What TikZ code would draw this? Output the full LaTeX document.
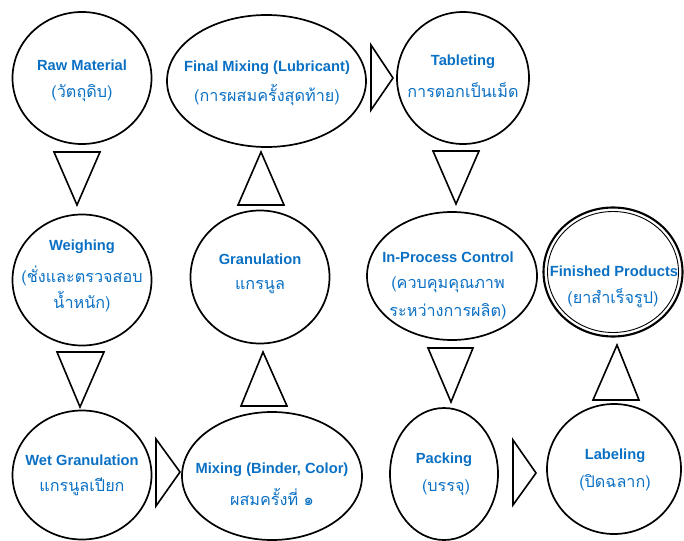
\documentclass[tikz,border=0pt]{standalone}
\usepackage{fontspec}
\setmainfont{Liberation Sans}
\newfontfamily\thaifont[Script=Thai]{Loma}
\usetikzlibrary{shapes.geometric}
\definecolor{txtblue}{RGB}{10,112,196}
\tikzset{
  stage/.style={ellipse, draw=black, line width=1.7pt, inner sep=0pt},
  entext/.style={text=txtblue, font=\bfseries\fontsize{14.7}{16}\selectfont, inner sep=0pt, align=center},
  thtext/.style={text=txtblue, font=\thaifont\fontsize{16.2}{18}\selectfont, inner sep=0pt, align=center},
  blockarrow/.style={draw=black, line width=1.6pt, line join=miter, fill=white},
}
\begin{document}
\begin{tikzpicture}[x=1pt,y=-1pt]
\useasboundingbox (0,0) rectangle (684,540);
% stages
\node[stage, minimum width=139pt, minimum height=132pt] (raw) at (82,78) {};
\node[stage, minimum width=199pt, minimum height=132pt] (final) at (266.5,81) {};
\node[stage, minimum width=132pt, minimum height=132pt] (tab) at (463,78) {};
\node[stage, minimum width=139pt, minimum height=131pt] (weigh) at (82,280) {};
\node[stage, minimum width=139pt, minimum height=133pt] (gran) at (260,277) {};
\node[stage, minimum width=170pt, minimum height=128pt] (ipc) at (452,276) {};
\node[stage, line width=2.1pt, minimum width=139pt, minimum height=129pt] (fin) at (613,272) {};
\node[stage, line width=0.9pt, minimum width=131pt, minimum height=121pt] (fininner) at (fin.center) {};
\node[stage, minimum width=139pt, minimum height=129pt] (wet) at (82,475) {};
\node[stage, minimum width=180pt, minimum height=128pt] (mix) at (272,476) {};
\node[stage, minimum width=108pt, minimum height=132pt] (pack) at (444,474) {};
\node[stage, minimum width=134pt, minimum height=130pt] (lab) at (614,469) {};
% texts
\node[entext] (rawe) at (82,65) {Raw Material};
\node[thtext] (rawt) at (82,93) {(วัตถุดิบ)};
\node[entext] (finale) at (267,68) {Final Mixing (Lubricant)};
\node[thtext] (finalt) at (267,95) {(การผสมครั้งสุดท้าย)};
\node[entext] (tabe) at (463,62) {Tableting};
\node[thtext] (tabt) at (463,90) {การตอกเป็นเม็ด};
\node[entext] (weighe) at (82,247) {Weighing};
\node[thtext] (weight1) at (82,276) {(ชั่งและตรวจสอบ};
\node[thtext] (weight2) at (82,302) {น้ำหนัก)};
\node[entext] (grane) at (260,259) {Granulation};
\node[thtext] (grant) at (260,287) {แกรนูล};
\node[entext] (ipce) at (448,257) {In-Process Control};
\node[thtext] (ipct1) at (448,285) {(ควบคุมคุณภาพ};
\node[thtext] (ipct2) at (448,312) {ระหว่างการผลิต)};
\node[entext] (fine) at (614,271) {Finished Products};
\node[thtext] (fint) at (613,298) {(ยาสำเร็จรูป)};
\node[entext] (wete) at (82,460) {Wet Granulation};
\node[thtext] (wett) at (82,487) {แกรนูลเปียก};
\node[entext] (mixe) at (272,470) {Mixing (Binder, Color)};
\node[thtext] (mixt) at (272,497) {ผสมครั้งที่ ๑};
\node[entext] (packe) at (444,460) {Packing};
\node[thtext] (packt) at (446,488) {(บรรจุ)};
\node[entext] (labe) at (615,456) {Labeling};
\node[thtext] (labt) at (615,483) {(ปิดฉลาก)};
% block arrows (flow)
\draw[blockarrow] (54,152) -- (100,152) -- (77,205) -- cycle;      % raw -> weigh
\draw[blockarrow] (57,352) -- (104,352) -- (80,407) -- cycle;      % weigh -> wet
\draw[blockarrow] (156,439) -- (180,472) -- (156,506) -- cycle;    % wet -> mix
\draw[blockarrow] (241,406) -- (287,406) -- (263,352) -- cycle;    % mix -> gran
\draw[blockarrow] (238,205) -- (284,205) -- (261,152) -- cycle;    % gran -> final
\draw[blockarrow] (371,45) -- (393,78) -- (371,110) -- cycle;      % final -> tab
\draw[blockarrow] (433,151) -- (479,151) -- (456,204) -- cycle;    % tab -> ipc
\draw[blockarrow] (428,348) -- (473,348) -- (451,402) -- cycle;    % ipc -> pack
\draw[blockarrow] (513,440) -- (536,473) -- (513,505) -- cycle;    % pack -> lab
\draw[blockarrow] (593,400) -- (639,400) -- (617,345) -- cycle;    % lab -> fin
\end{tikzpicture}
\end{document}
